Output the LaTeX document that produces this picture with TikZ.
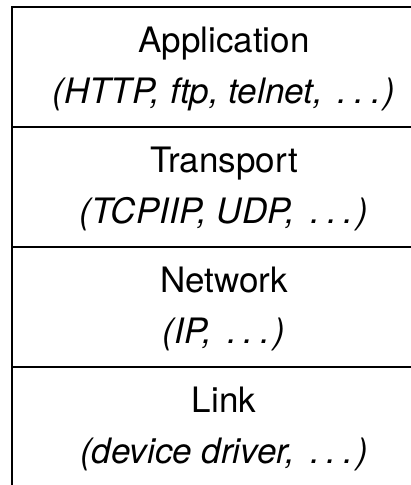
\documentclass[tikz,border=0pt]{standalone}
\usepackage{fontspec}
\setmainfont{TeX Gyre Heros}
\newcommand{\spaceddots}{\hspace{5pt}.\hspace{7pt}.\hspace{7pt}.\hspace{3pt}}
\begin{document}
\begin{tikzpicture}[x=1pt,y=-1pt,
  layerbox/.style={draw, line width=1.6pt, minimum width=424pt, minimum height=120pt,
    inner sep=0pt, outer sep=0pt, anchor=north west},
  titletext/.style={anchor=base, inner sep=0pt, font=\fontsize{35}{42}\selectfont},
  subtext/.style={anchor=base, inner sep=0pt, font=\fontsize{35}{42}\selectfont\itshape}]
\useasboundingbox (0,0) rectangle (411,485);
\clip (0,0) rectangle (411,485);
\node[layerbox] (app) at (12,7) {};
\node[layerbox] (trans) at (12,127) {};
\node[layerbox] (net) at (12,247) {};
\node[layerbox] (link) at (12,367) {};
\node[titletext] (appT) at (224,52) {Application};
\node[subtext] (appS) at (224,103) {(HTTP, ftp, telnet, \spaceddots)};
\node[titletext] (transT) at (224,172) {Transport};
\node[subtext] (transS) at (224,223) {(TCPIIP, UDP, \spaceddots)};
\node[titletext] (netT) at (224,292) {Network};
\node[subtext] (netS) at (224,343) {(IP, \spaceddots)};
\node[titletext] (linkT) at (224,412) {Link};
\node[subtext] (linkS) at (224,463) {(device driver, \spaceddots)};
\end{tikzpicture}
\end{document}
